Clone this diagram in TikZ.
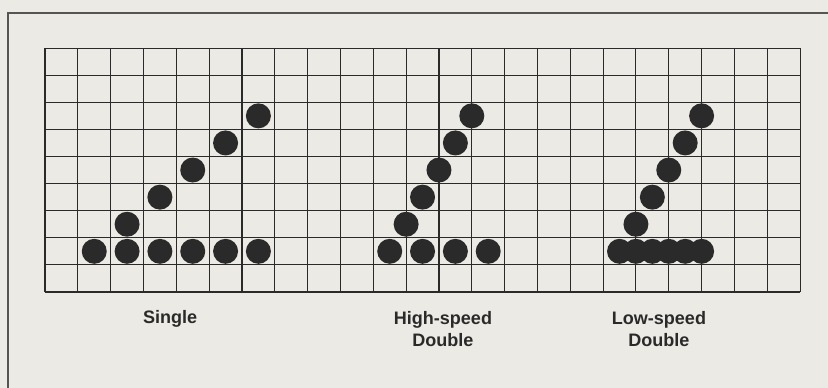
\documentclass[tikz,border=0pt]{standalone}
\usepackage{fontspec}
\setmainfont{Liberation Sans}
\definecolor{paper}{RGB}{236,234,228}
\definecolor{ink}{RGB}{42,42,42}

\begin{document}
\begin{tikzpicture}[x=0.985cm, y=0.813cm,
  gridline/.style={ink, line width=0.9pt},
  frameline/.style={ink!80, line width=1.3pt},
  pix/.style={fill=ink},
  lbl/.style={font=\bfseries\fontsize{15.4}{19.3}\selectfont, align=center, anchor=base, text=ink}]
  \useasboundingbox[fill=paper] (-1.371,-3.542) rectangle (23.85,10.775);
  % frame
  \draw[frameline] (-1.127,-3.542) -- (-1.127,10.295) -- (23.85,10.295);
  % 23 x 9 dot grid
  \foreach \c in {0,...,23} \draw[gridline] (\c,0) -- (\c,9);
  \foreach \r in {0,...,9} \draw[gridline] (0,\r) -- (23,\r);
  % single
  \foreach \c in {1.5,2.5,...,6.5} \fill[pix] (\c,1.5) circle (0.375cm);
  \foreach \i in {1,...,5} \fill[pix] ({\i+1.5},{\i+1.5}) circle (0.375cm);
  % high-speed double (half steps only on the slope)
  \foreach \c in {10.5,11.5,...,13.5} \fill[pix] (\c,1.5) circle (0.375cm);
  \foreach \i in {1,...,5} \fill[pix] ({10.5+\i/2},{\i+1.5}) circle (0.375cm);
  % low-speed double (half steps everywhere)
  \foreach \c in {17.5,18,...,20} \fill[pix] (\c,1.5) circle (0.375cm);
  \foreach \i in {1,...,5} \fill[pix] ({17.5+\i/2},{\i+1.5}) circle (0.375cm);
  % labels (base = last line)
  \node[lbl] (single) at (3.81,-1.15) {Single};
  \node[lbl] (high) at (12.12,-2.03) {High-speed\\Double};
  \node[lbl] (low) at (18.70,-2.03) {Low-speed\\Double};
\end{tikzpicture}
\end{document}
